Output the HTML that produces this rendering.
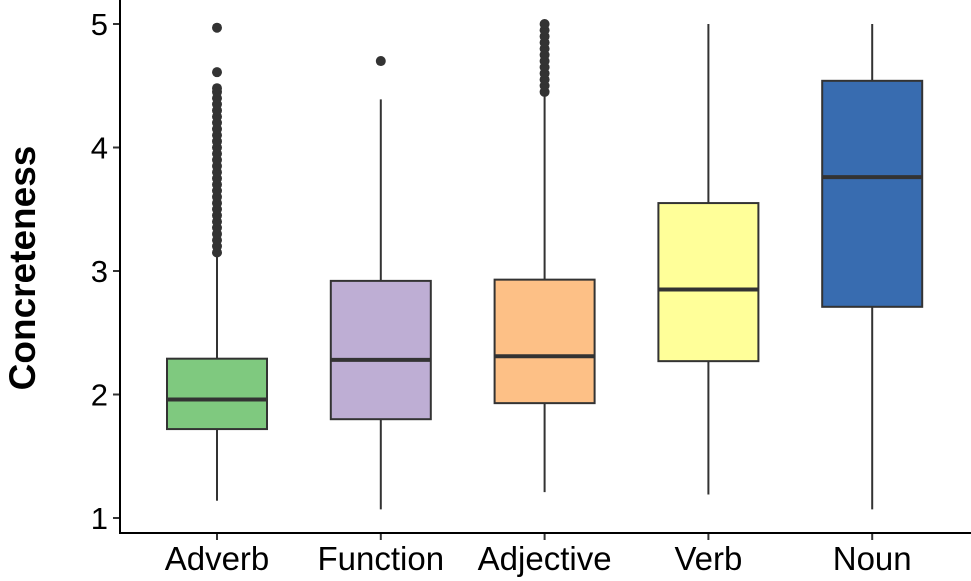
<!DOCTYPE html>
<html><head><meta charset="utf-8"><style>
body{margin:0;background:#fff;}
svg{display:block;font-family:"Liberation Sans",Arial,sans-serif;}
</style></head><body>
<svg id="chart" width="971" height="581" viewBox="0 0 971 581">
<g id="plot"></g>
<text transform="translate(35,268) rotate(-90)" text-anchor="middle" font-size="37" font-weight="bold" fill="#000">Concreteness</text>
</svg>
<script>
const categories = ["Adverb","Function","Adjective","Verb","Noun"];
const colors = ["#7fc97f","#beaed4","#fdc086","#ffff99","#386cb0"];
const whiskerLow = [1.14,1.07,1.21,1.19,1.07];
const q1 = [1.72,1.80,1.93,2.27,2.71];
const median = [1.96,2.28,2.31,2.85,3.76];
const q3 = [2.29,2.92,2.93,3.55,4.54];
const whiskerHigh = [3.15,4.39,4.43,5.0,5.0];
const outliers = [
 [3.15,3.2,3.25,3.3,3.35,3.4,3.45,3.5,3.55,3.6,3.65,3.7,3.75,3.8,3.85,3.9,3.95,4.0,4.05,4.1,4.15,4.2,4.25,4.3,4.35,4.4,4.45,4.48,4.61,4.97],
 [4.70],
 [4.45,4.5,4.55,4.6,4.65,4.7,4.75,4.8,4.85,4.9,4.95,5.0],
 [],
 []
];
const yTicks = [1,2,3,4,5];

const NS="http://www.w3.org/2000/svg";
const g=document.getElementById('plot');
const y=v=>518-(v-1)*123.5;
const x=i=>217+i*163.8;
const bw=100;
function mk(tag,attrs,parent){const e=document.createElementNS(NS,tag);for(const k in attrs)e.setAttribute(k,attrs[k]);(parent||g).appendChild(e);return e;}

categories.forEach((c,i)=>{
  const cx=x(i);
  const w1=mk('line',{x1:cx,x2:cx,y1:y(whiskerLow[i]),y2:y(q1[i]),stroke:'#333','stroke-width':2});
  
  
  const w2=mk('line',{x1:cx,x2:cx,y1:y(q3[i]),y2:y(whiskerHigh[i]),stroke:'#333','stroke-width':2});
  
  
  const b=mk('rect',{x:cx-bw/2,y:y(q3[i]),width:bw,height:y(q1[i])-y(q3[i]),fill:colors[i],stroke:'#333','stroke-width':2});
  
  
  const m=mk('line',{x1:cx-bw/2,x2:cx+bw/2,y1:y(median[i]),y2:y(median[i]),stroke:'#333','stroke-width':4});
  
  
  outliers[i].forEach(v=>{
    const p=mk('circle',{cx:cx,cy:y(v),r:5,fill:'#333'});
    
    
  });
  const t=mk('line',{x1:cx,x2:cx,y1:533,y2:540,stroke:'#333','stroke-width':2});
  
  
  const l=mk('text',{x:cx,y:570,'text-anchor':'middle','font-size':33,fill:'#000'});
  l.textContent=c;
  
  
});
yTicks.forEach(v=>{
  const t=mk('line',{x1:113,x2:120,y1:y(v),y2:y(v),stroke:'#333','stroke-width':2});
  
  
  const l=mk('text',{x:108,y:y(v)+11,'text-anchor':'end','font-size':31,fill:'#000'});
  l.textContent=v;
  
  
});
const ya=mk('line',{x1:120,x2:120,y1:0,y2:534,stroke:'#000','stroke-width':2});


const xa=mk('line',{x1:119,x2:971,y1:533,y2:533,stroke:'#000','stroke-width':2});


</script>
</body></html>
